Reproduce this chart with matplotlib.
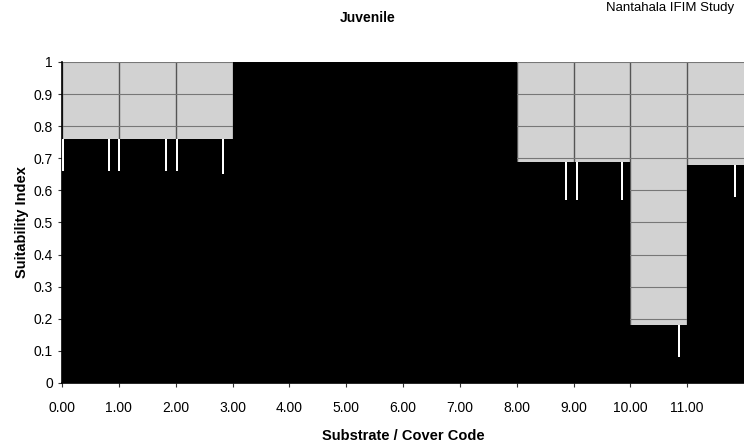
import matplotlib
matplotlib.use('Agg')
import matplotlib.pyplot as plt
from matplotlib.ticker import FuncFormatter
import numpy as np

plt.rcParams['font.family'] = ['Liberation Sans', 'DejaVu Sans']

# suitability steps: each code range [edge_i, edge_i+1) has one value
step_edges = [0.0, 3.0, 8.0, 10.0, 11.0, 12.1]
step_si = [0.76, 1.0, 0.69, 0.18, 0.68]

# narrow drops in the curve (white slivers in the scan)
dip_x = [0.02, 0.83, 1.00, 1.83, 2.02, 2.83, 8.86, 9.07, 9.86, 10.85, 11.85]
dip_si = [0.66, 0.66, 0.66, 0.66, 0.66, 0.65, 0.57, 0.57, 0.57, 0.08, 0.58]

x_ticks = np.arange(0, 12, 1.0)
y_ticks = np.arange(0, 1.01, 0.1)

fig = plt.figure(figsize=(7.44, 4.44), dpi=100)
ax = fig.add_axes([62 / 744, 1 - 383 / 444, 1 - 62 / 744, (383 - 62) / 444])
ax.set_facecolor('#d2d2d2')

# grid under the fill
for xv in x_ticks:
    ax.axvline(xv, color='#555555', linewidth=1.0, zorder=1)
for yv in y_ticks:
    ax.axhline(yv, color='#777777', linewidth=0.8, zorder=1)

# black step fill
sx = np.array(step_edges)
sy = np.append(step_si, step_si[-1])
ax.fill_between(sx, 0, sy, step='post', color='black', linewidth=0, zorder=2)

# white slivers where the index drops
for xd, yd in zip(dip_x, dip_si):
    idx = np.searchsorted(step_edges, xd, side='right') - 1
    base = step_si[idx]
    ax.bar(xd, base - yd, bottom=yd, width=0.035, color='white',
           linewidth=0, zorder=3)

ax.set_xlim(0, 12.0)
ax.set_ylim(0, 1)
ax.set_xticks(x_ticks)
ax.set_xticklabels(['%.2f' % v for v in x_ticks])
ax.set_yticks(y_ticks)
ax.yaxis.set_major_formatter(FuncFormatter(lambda v, p: '%g' % round(v, 1)))
ax.tick_params(axis='both', labelsize=10, length=3, width=0.8, color='#333333')
ax.tick_params(axis='x', pad=10)
for s in ['top', 'right']:
    ax.spines[s].set_visible(False)
ax.spines['left'].set_linewidth(1.2)
ax.spines['bottom'].set_linewidth(1.2)

ax.set_xlabel('Substrate / Cover Code', fontsize=10.5, fontweight='bold',
              labelpad=10)
ax.set_ylabel('Suitability Index', fontsize=10.5, fontweight='bold',
              labelpad=3)
fig.text(368 / 744, 1 - 18 / 444, 'Juvenile', fontsize=10, fontweight='bold',
         ha='center', va='center')
fig.text(606 / 744, 1 - 11 / 444, 'Nantahala IFIM Study', fontsize=9.5,
         ha='left', va='baseline')

fig.savefig('out.png', dpi=100)
